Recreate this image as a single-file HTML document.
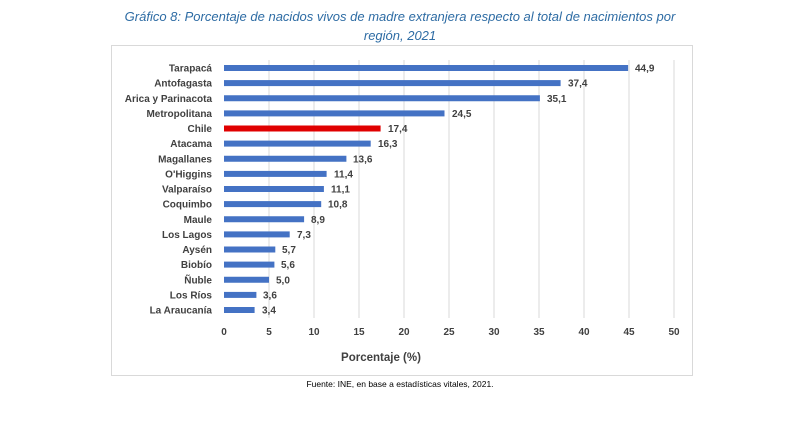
<!DOCTYPE html>
<html><head><meta charset="utf-8"><style>
body{margin:0;background:#fff;width:800px;height:430px;overflow:hidden;font-family:"Liberation Sans",sans-serif}
</style></head><body>
<svg width="800" height="430" xmlns="http://www.w3.org/2000/svg" font-family="Liberation Sans, sans-serif">
<text x="400" y="21" text-anchor="middle" font-size="13" font-style="italic" fill="#2e6ca4">Gráfico 8: Porcentaje de nacidos vivos de madre extranjera respecto al total de nacimientos por</text>
<text x="400" y="40" text-anchor="middle" font-size="13" font-style="italic" fill="#2e6ca4">región, 2021</text>
<rect x="111.5" y="45.5" width="581" height="330" fill="#fff" stroke="#d9d9d9"/>
<g stroke="#d9d9d9" stroke-width="1">
<line x1="269" y1="60" x2="269" y2="318"/><line x1="314" y1="60" x2="314" y2="318"/><line x1="359" y1="60" x2="359" y2="318"/><line x1="404" y1="60" x2="404" y2="318"/><line x1="449" y1="60" x2="449" y2="318"/><line x1="494" y1="60" x2="494" y2="318"/><line x1="539" y1="60" x2="539" y2="318"/><line x1="584" y1="60" x2="584" y2="318"/><line x1="629" y1="60" x2="629" y2="318"/><line x1="674" y1="60" x2="674" y2="318"/>
</g>
<g font-size="10" font-weight="bold" fill="#404040" text-anchor="middle">
<text x="224" y="335">0</text><text x="269" y="335">5</text><text x="314" y="335">10</text><text x="359" y="335">15</text><text x="404" y="335">20</text><text x="449" y="335">25</text><text x="494" y="335">30</text><text x="539" y="335">35</text><text x="584" y="335">40</text><text x="629" y="335">45</text><text x="674" y="335">50</text>
</g>
<text x="381" y="361" text-anchor="middle" font-size="11.5" font-weight="bold" fill="#404040">Porcentaje (%)</text>
<text x="400" y="387" text-anchor="middle" font-size="8.5" fill="#000">Fuente: INE, en base a estadísticas vitales, 2021.</text>
<g fill="#4472c4">
<rect x="224" y="65" width="404.1" height="6"/>
<rect x="224" y="80.1" width="336.6" height="6"/>
<rect x="224" y="95.25" width="315.9" height="6"/>
<rect x="224" y="110.4" width="220.5" height="6"/>
<rect x="224" y="125.5" width="156.6" height="6" fill="#e00000"/>
<rect x="224" y="140.6" width="146.7" height="6"/>
<rect x="224" y="155.75" width="122.4" height="6"/>
<rect x="224" y="170.9" width="102.6" height="6"/>
<rect x="224" y="186" width="99.9" height="6"/>
<rect x="224" y="201.1" width="97.2" height="6"/>
<rect x="224" y="216.25" width="80.1" height="6"/>
<rect x="224" y="231.4" width="65.7" height="6"/>
<rect x="224" y="246.5" width="51.3" height="6"/>
<rect x="224" y="261.6" width="50.4" height="6"/>
<rect x="224" y="276.75" width="45" height="6"/>
<rect x="224" y="291.9" width="32.4" height="6"/>
<rect x="224" y="307" width="30.6" height="6"/>
</g>
<g font-size="10" font-weight="bold" fill="#404040" text-anchor="end">
<text x="212" y="71.5">Tarapacá</text>
<text x="212" y="86.6">Antofagasta</text>
<text x="212" y="101.75">Arica y Parinacota</text>
<text x="212" y="116.9">Metropolitana</text>
<text x="212" y="132">Chile</text>
<text x="212" y="147.1">Atacama</text>
<text x="212" y="162.25">Magallanes</text>
<text x="212" y="177.4">O'Higgins</text>
<text x="212" y="192.5">Valparaíso</text>
<text x="212" y="207.6">Coquimbo</text>
<text x="212" y="222.75">Maule</text>
<text x="212" y="237.9">Los Lagos</text>
<text x="212" y="253">Aysén</text>
<text x="212" y="268.1">Biobío</text>
<text x="212" y="283.25">Ñuble</text>
<text x="212" y="298.4">Los Ríos</text>
<text x="212" y="313.5">La Araucanía</text>
</g>
<g font-size="10" font-weight="bold" fill="#404040">
<text x="635" y="71.5">44,9</text>
<text x="568" y="86.6">37,4</text>
<text x="547" y="101.75">35,1</text>
<text x="452" y="116.9">24,5</text>
<text x="388" y="132">17,4</text>
<text x="378" y="147.1">16,3</text>
<text x="353" y="162.25">13,6</text>
<text x="334" y="177.4">11,4</text>
<text x="331" y="192.5">11,1</text>
<text x="328" y="207.6">10,8</text>
<text x="311" y="222.75">8,9</text>
<text x="297" y="237.9">7,3</text>
<text x="282" y="253">5,7</text>
<text x="281" y="268.1">5,6</text>
<text x="276" y="283.25">5,0</text>
<text x="263" y="298.4">3,6</text>
<text x="262" y="313.5">3,4</text>
</g>
</svg>
</body></html>
